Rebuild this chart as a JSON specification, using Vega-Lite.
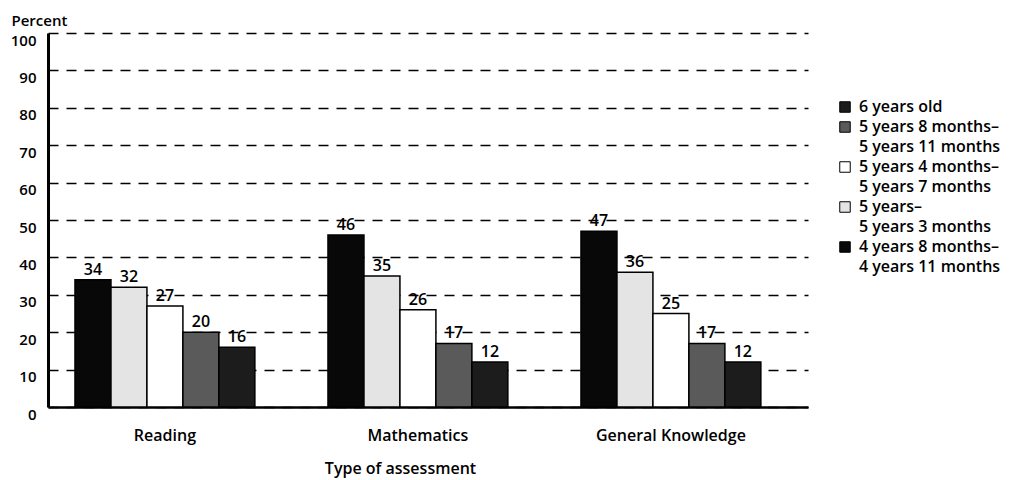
{
  "$schema": "https://vega.github.io/schema/vega-lite/v6.json",
  "width": 760,
  "height": 374,
  "autosize": {"type": "none"},
  "padding": {"left": 48, "top": 33, "right": 203, "bottom": 73},
  "background": "white",
  "config": {
    "view": {"stroke": null},
    "font": "Open Sans",
    "axis": {"labelFont": "Open Sans", "titleFont": "Open Sans", "labelColor": "black", "titleColor": "black"},
    "legend": {"labelFont": "Open Sans"}
  },
  "data": {
    "values": [
      {"assessment": "Reading", "age": "4 years 8 months–|4 years 11 months", "value": 34},
      {"assessment": "Reading", "age": "5 years–|5 years 3 months", "value": 32},
      {"assessment": "Reading", "age": "5 years 4 months–|5 years 7 months", "value": 27},
      {"assessment": "Reading", "age": "5 years 8 months–|5 years 11 months", "value": 20},
      {"assessment": "Reading", "age": "6 years old", "value": 16},
      {"assessment": "Mathematics", "age": "4 years 8 months–|4 years 11 months", "value": 46},
      {"assessment": "Mathematics", "age": "5 years–|5 years 3 months", "value": 35},
      {"assessment": "Mathematics", "age": "5 years 4 months–|5 years 7 months", "value": 26},
      {"assessment": "Mathematics", "age": "5 years 8 months–|5 years 11 months", "value": 17},
      {"assessment": "Mathematics", "age": "6 years old", "value": 12},
      {"assessment": "General Knowledge", "age": "4 years 8 months–|4 years 11 months", "value": 47},
      {"assessment": "General Knowledge", "age": "5 years–|5 years 3 months", "value": 36},
      {"assessment": "General Knowledge", "age": "5 years 4 months–|5 years 7 months", "value": 25},
      {"assessment": "General Knowledge", "age": "5 years 8 months–|5 years 11 months", "value": 17},
      {"assessment": "General Knowledge", "age": "6 years old", "value": 12}
    ]
  },
  "encoding": {
    "x": {
      "field": "assessment",
      "type": "nominal",
      "sort": ["Reading", "Mathematics", "General Knowledge"],
      "scale": {"paddingInner": 0.289, "paddingOuter": 0.1465, "align": 0.364},
      "axis": {
        "title": "Type of assessment",
        "labelAngle": 0,
        "labelFontSize": 16,
        "labelFontWeight": 600,
        "labelPadding": 20,
        "ticks": false,
        "domainColor": "black",
        "domainWidth": 2.5,
        "titleFontSize": 16,
        "titleFontWeight": 600,
        "titlePadding": 17,
        "titleX": 352
      }
    },
    "xOffset": {
      "field": "age",
      "type": "nominal",
      "sort": ["4 years 8 months–|4 years 11 months", "5 years–|5 years 3 months", "5 years 4 months–|5 years 7 months", "5 years 8 months–|5 years 11 months", "6 years old"],
      "scale": {"paddingInner": 0, "paddingOuter": 0}
    },
    "y": {
      "field": "value",
      "type": "quantitative",
      "scale": {"domain": [0, 100]},
      "axis": {
        "title": "Percent",
        "titleAngle": 0,
        "titleAlign": "left",
        "titleBaseline": "middle",
        "titleX": -37,
        "titleY": -13,
        "titleFontSize": 15,
        "titleFontWeight": 600,
        "values": [0, 10, 20, 30, 40, 50, 60, 70, 80, 90, 100],
        "labelFontSize": 15,
        "labelFontWeight": 600,
        "labelPadding": 12,
        "labelOffset": 7,
        "ticks": false,
        "domainColor": "black",
        "domainWidth": 3,
        "grid": true,
        "gridColor": "black",
        "gridWidth": 1.6,
        "gridDash": [10, 8]
      }
    }
  },
  "layer": [
    {
      "mark": {"type": "bar", "stroke": "black", "strokeWidth": 1.5},
      "encoding": {
        "fill": {
          "field": "age",
          "type": "nominal",
          "scale": {
            "domain": ["6 years old", "5 years 8 months–|5 years 11 months", "5 years 4 months–|5 years 7 months", "5 years–|5 years 3 months", "4 years 8 months–|4 years 11 months"],
            "range": ["#1c1c1c", "#5a5a5a", "#ffffff", "#e4e4e4", "#080808"]
          },
          "legend": {
            "title": null,
            "orient": "none",
            "legendX": 787,
            "legendY": 66,
            "symbolType": "square",
            "symbolSize": 110,
            "symbolStrokeColor": "black",
            "symbolStrokeWidth": 1,
            "labelFontSize": 16,
            "labelFontWeight": 600,
            "labelColor": "black",
            "labelExpr": "split(datum.label, '|')",
            "labelLimit": 300,
            "labelOffset": 6,
            "rowPadding": 4,
            "symbolOffset": 2,
            "encode": {"labels": {"update": {"lineHeight": {"value": 20}}}}
          }
        }
      }
    },
    {
      "mark": {"type": "text", "dy": -10, "fontSize": 16, "fontWeight": 600, "color": "black"},
      "encoding": {"text": {"field": "value", "type": "quantitative"}}
    }
  ]
}
